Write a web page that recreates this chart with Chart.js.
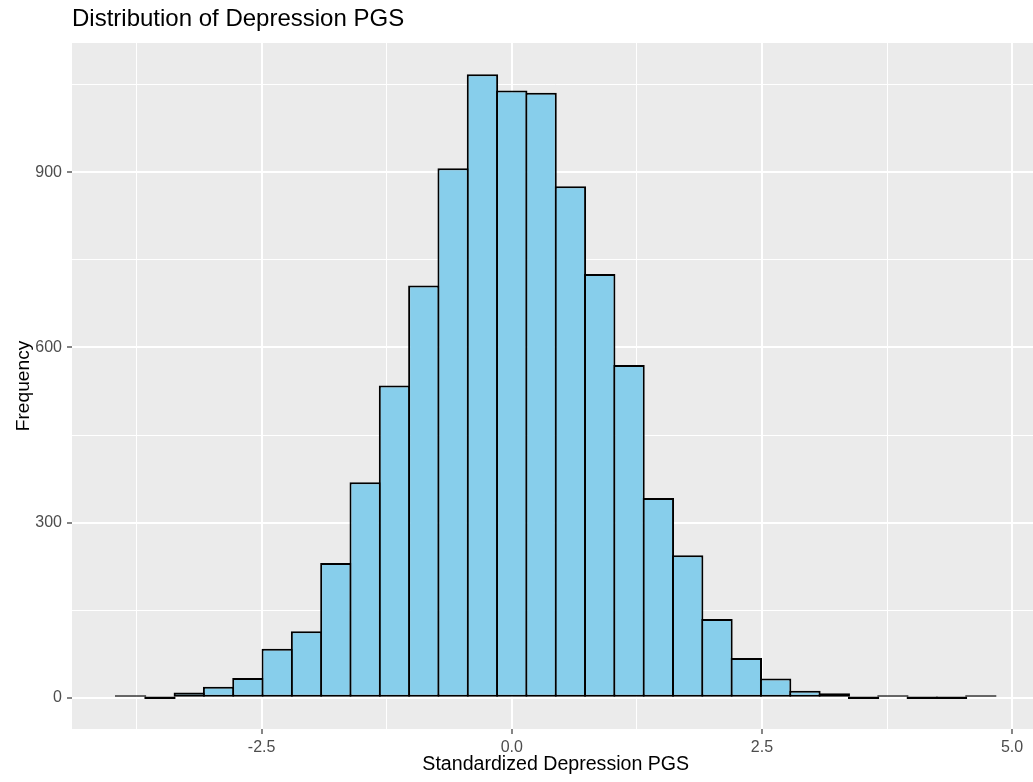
<!DOCTYPE html>
<html>
<head>
<meta charset="utf-8">
<title>Distribution of Depression PGS</title>
<script src="https://cdn.jsdelivr.net/npm/chart.js@4.4.1/dist/chart.umd.min.js"></script>
<style>
  html, body { margin: 0; padding: 0; background: #fff; overflow: hidden; }
  #wrap { position: relative; width: 1045px; height: 782px; }
</style>
</head>
<body>
<div id="wrap"><canvas id="pgsChart"></canvas></div>
<script>
// 30 equal-width bins, centred on multiples of the bin width
const binCenters = [-3.809, -3.516, -3.223, -2.930, -2.637, -2.344, -2.051, -1.758, -1.465, -1.172,
                    -0.879, -0.586, -0.293, 0, 0.293, 0.586, 0.879, 1.172, 1.465, 1.758,
                    2.051, 2.344, 2.637, 2.930, 3.223, 3.516, 3.809, 4.102, 4.395, 4.688];
const counts = [2, 0, 9, 19, 34, 84, 114, 231, 369, 535,
                706, 907, 1068, 1040, 1036, 876, 726, 570, 342, 244,
                135, 68, 33, 12, 8, 0, 1, 0, 0, 1];

const xMajorTicks = [-2.5, 0, 2.5, 5];
const xMinorTicks = [-3.75, -1.25, 1.25, 3.75];
const yMajorTicks = [0, 300, 600, 900];
const yMinorTicks = [150, 450, 750, 1050];
const xLimits = [-4.395, 5.274];
const yLimits = [-53.4, 1121.4];

const FONT = '"Liberation Sans", Arial, Helvetica, sans-serif';

function allTicks(major, minor) {
  return major.concat(minor).sort((a, b) => a - b).map(v => ({ value: v }));
}

// grey panel behind the grid
const panelBg = {
  id: 'panelBg',
  beforeDraw(chart) {
    const a = chart.chartArea;
    const ctx = chart.ctx;
    ctx.save();
    ctx.fillStyle = '#EBEBEB';
    ctx.fillRect(a.left, a.top, a.right - a.left, a.bottom - a.top);
    ctx.restore();
  }
};

function gridFor(major) {
  return {
    color: '#FFFFFF',
    lineWidth: c => (c.tick && major.includes(c.tick.value)) ? 2 : 1,
    tickColor: c => (c.tick && major.includes(c.tick.value)) ? '#333333' : 'rgba(0,0,0,0)',
    tickWidth: 1.2,
    tickLength: 5,
    offset: false
  };
}

new Chart(document.getElementById('pgsChart'), {
  type: 'bar',
  data: {
    datasets: [{
      data: binCenters.map((x, i) => ({ x: x, y: counts[i] })),
      backgroundColor: '#87CEEB',
      borderColor: '#000000',
      borderWidth: 2,
      borderSkipped: false,
      barPercentage: 1.07,
      categoryPercentage: 1,
      minBarLength: 2.5,
      inflateAmount: 0
    }]
  },
  options: {
    responsive: true,
    maintainAspectRatio: false,
    animation: false,
    layout: { padding: { left: 0, right: 5.5, top: 0, bottom: 0 } },
    plugins: {
      legend: { display: false },
      tooltip: { enabled: false },
      title: {
        display: true,
        text: 'Distribution of Depression PGS',
        align: 'start',
        fullSize: false,
        color: '#000000',
        font: { family: FONT, size: 24, weight: 'normal' },
        padding: { top: 5, bottom: 9.2 }
      }
    },
    scales: {
      x: {
        type: 'linear',
        min: xLimits[0],
        max: xLimits[1],
        offset: false,
        afterBuildTicks: axis => { axis.ticks = allTicks(xMajorTicks, xMinorTicks); },
        afterFit: axis => { axis.height = 53; },
        grid: gridFor(xMajorTicks),
        border: { display: false },
        ticks: {
          autoSkip: false,
          maxRotation: 0,
          padding: 4,
          color: '#4D4D4D',
          font: { family: FONT, size: 16 },
          callback: v => xMajorTicks.includes(v) ? v.toFixed(1) : ''
        },
        title: {
          display: true,
          text: 'Standardized Depression PGS',
          color: '#000000',
          font: { family: FONT, size: 19.6 },
          padding: { top: 0, bottom: 5.2 }
        }
      },
      y: {
        type: 'linear',
        min: yLimits[0],
        max: yLimits[1],
        afterBuildTicks: axis => { axis.ticks = allTicks(yMajorTicks, yMinorTicks); },
        afterFit: axis => { axis.width = 72; },
        grid: gridFor(yMajorTicks),
        border: { display: false },
        ticks: {
          autoSkip: false,
          padding: 5,
          color: '#4D4D4D',
          font: { family: FONT, size: 16 },
          callback: v => yMajorTicks.includes(v) ? String(v) : ''
        },
        title: {
          display: true,
          text: 'Frequency',
          color: '#000000',
          font: { family: FONT, size: 19.2 },
          padding: { top: 12, bottom: 0 }
        }
      }
    }
  },
  plugins: [panelBg]
});
</script>
</body>
</html>
